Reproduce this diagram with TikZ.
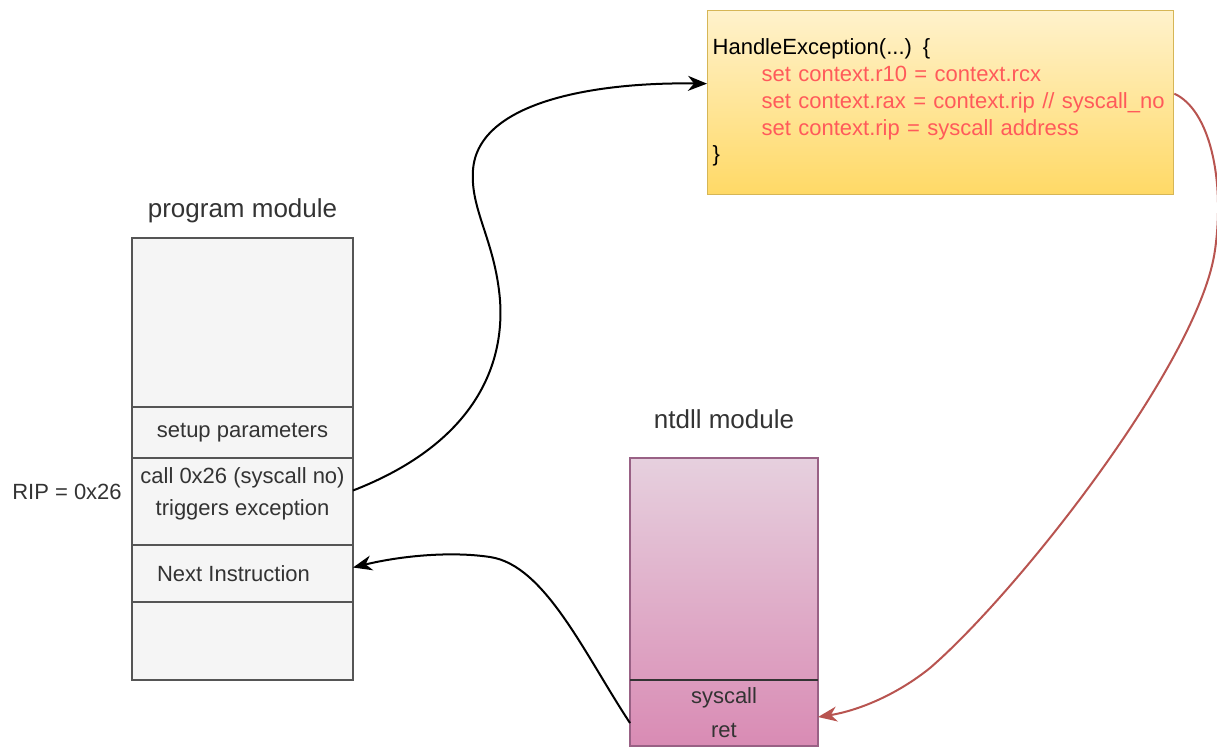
\documentclass[tikz,border=0pt]{standalone}
\usepackage{fontspec}
\setmainfont{Liberation Sans}
\usepackage{xcolor}
\usepackage{tikz}
\usetikzlibrary{arrows.meta,positioning,shadings}

\definecolor{progfill}{HTML}{F5F5F5}
\definecolor{progline}{HTML}{555555}
\definecolor{txtgray}{HTML}{333333}
\definecolor{ylwtop}{HTML}{FFF2CC}
\definecolor{ylwbot}{HTML}{FFD966}
\definecolor{ylwline}{HTML}{D6B656}
\definecolor{pinktop}{HTML}{E6D0DE}
\definecolor{pinkbot}{HTML}{D98BB4}
\definecolor{pinkline}{HTML}{996185}
\definecolor{codered}{HTML}{FF5A5A}
\definecolor{redline}{HTML}{B85450}
\colorlet{pinkmid}{pinkbot!77!pinktop}

\begin{document}
\begin{tikzpicture}[x=1pt,y=-1pt,
    cell/.style={draw=progline, fill=progfill, line width=1.3pt, minimum width=221pt,
        inner sep=0pt, outer sep=0pt, text=txtgray, align=center,
        font=\fontsize{22}{32}\selectfont},
    ntcell/.style={draw=pinkline, line width=1.3pt, minimum width=188pt,
        inner sep=0pt, outer sep=0pt, text=txtgray, align=center,
        font=\fontsize{22}{34}\selectfont},
    heading/.style={text=txtgray, font=\fontsize{26}{30}\selectfont},
    flow/.style={line width=2pt, -{Stealth[length=19pt,width=15pt,inset=6pt]}}]
    \useasboundingbox (0,0) rectangle (1217,748);

    % program module
    \node[cell, minimum height=169pt, anchor=north west] (progtop) at (132,238) {};
    \node[cell, minimum height=51pt, below=0pt of progtop] (setup) {setup parameters};
    \node[cell, minimum height=87pt, below=0pt of setup] (call) {call 0x26 (syscall no)\\triggers exception\\[-12pt]};
    \node[cell, minimum height=57pt, below=0pt of call] (next) {Next Instruction\hspace*{18pt}};
    \node[cell, minimum height=78pt, below=0pt of next] (progend) {};
    \node[heading, above=12pt of progtop] (proglabel) {program module};
    \node[text=txtgray, font=\fontsize{22}{26}\selectfont] (rip) at (67,492) {RIP = 0x26};

    % exception handler
    \node[anchor=north west, draw=ylwline, line width=1.3pt, top color=ylwtop, bottom color=ylwbot,
        minimum width=466pt, minimum height=184pt, text width=456pt, inner xsep=5pt,
        align=left, font=\fontsize{22}{26.7}\selectfont] (handler) at (707,10)
        {HandleException(...) \{\\
         \hspace*{49pt}\textcolor{codered}{set context.r10 = context.rcx}\\
         \hspace*{49pt}\textcolor{codered}{set context.rax = context.rip // syscall\_no}\\
         \hspace*{49pt}\textcolor{codered}{set context.rip = syscall address}\\
         \}};

    % ntdll module
    \node[ntcell, minimum height=222pt, anchor=north west, top color=pinktop, bottom color=pinkmid] (nttop) at (630,458) {};
    \node[ntcell, minimum height=66pt, below=0pt of nttop, top color=pinkmid, bottom color=pinkbot] (ntret) {syscall\\ret};
    \draw[line width=1.3pt, txtgray] (nttop.south west) -- (nttop.south east);
    \node[heading, above=26pt of nttop] (ntlabel) {ntdll module};

    % arrows
    \draw[flow] ([yshift=11pt]call.east) .. controls (470,445) and (505,370) .. (500,300)
        .. controls (495,240) and (470,210) .. (473,170)
        .. controls (478,100) and (600,82) .. ([yshift=19pt]handler.west);
    \draw[flow, redline] ([yshift=9pt]handler.east) .. controls (1210,110) and (1225,180) .. (1215,250)
        .. controls (1200,360) and (1020,590) .. (930,668)
        .. controls (890,700) and (850,712) .. ([yshift=-4pt]ntret.east);
    \draw[flow] ([yshift=-10pt]ntret.west) .. controls (585,655) and (545,565) .. (490,557)
        .. controls (450,551) and (400,556) .. ([yshift=6pt]next.east);
\end{tikzpicture}
\end{document}
